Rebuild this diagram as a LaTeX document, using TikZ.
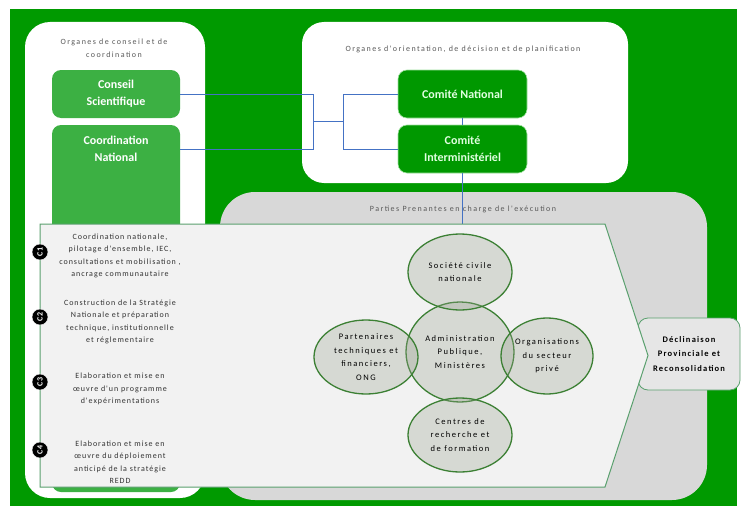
\documentclass[tikz,border=0pt]{standalone}
\usepackage{fontspec}
\setmainfont{Carlito}
\newfontfamily\lsA[LetterSpace=18]{Carlito}
\newfontfamily\lsB[LetterSpace=12]{Carlito}
\newfontfamily\lsC[LetterSpace=14]{Carlito}
\usetikzlibrary{shapes.geometric}
\definecolor{bggreen}{RGB}{0,154,0}
\definecolor{boxgreen}{RGB}{60,176,67}
\definecolor{comgreen}{RGB}{0,152,0}
\definecolor{comline}{RGB}{160,225,160}
\definecolor{comtext}{RGB}{225,255,225}
\definecolor{panelgray}{RGB}{216,216,216}
\definecolor{pentfill}{RGB}{242,242,242}
\definecolor{pentline}{RGB}{90,160,110}
\definecolor{ellline}{RGB}{60,128,52}
\definecolor{ellfill}{RGB}{150,160,140}
\definecolor{connblue}{RGB}{68,114,196}
\definecolor{txtgray}{RGB}{89,89,89}
\definecolor{txtdark}{RGB}{50,50,50}
\begin{document}
\begin{tikzpicture}[x=1pt,y=-1pt,
  greenbox/.style={fill=boxgreen, rounded corners=9, minimum width=128pt, inner sep=0pt,
    text=white, align=center, font=\bfseries\fontsize{12}{17}\selectfont},
  combox/.style={fill=comgreen, draw=comline, line width=0.6pt, rounded corners=9,
    minimum width=129pt, minimum height=48pt, inner sep=0pt,
    text=comtext, align=center, font=\bfseries\fontsize{12}{17}\selectfont},
  paneltitle/.style={text=txtgray, align=center, font=\lsA\fontsize{8}{13}\selectfont},
  conn/.style={draw=connblue, line width=0.7pt},
  ell/.style={ellipse, draw=ellline, line width=1.3pt, fill=ellfill, fill opacity=0.3,
    text opacity=1, text=black, align=center, inner sep=0pt,
    font=\lsA\fontsize{8.5}{13.5}\selectfont},
  cdot/.style={circle, fill=black, draw=white, line width=0.4pt, text=white, minimum size=16pt, inner sep=0pt,
    rotate=90, font=\bfseries\fontsize{8}{9}\selectfont},
  ctext/.style={text=txtdark, align=center, font=\lsB\fontsize{8}{12.5}\selectfont}
]
\useasboundingbox (0,0) rectangle (741,511);
\fill[white] (0,0) rectangle (741,511);
\fill[bggreen] (10,9) rectangle (737,506);

% panels
\fill[white, rounded corners=25] (25,22) rectangle (205,498);
\fill[white, rounded corners=22] (302,22) rectangle (628,183);
\fill[panelgray, rounded corners=35] (220,192) rectangle (707,500);

\node[paneltitle] (t1) at (114,48) {Organes de conseil et de\\coordination};
\node[paneltitle] (t2) at (463,49) {Organes d'orientation, de décision et de planification};
\node[paneltitle] (t3) at (463,209) {Parties Prenantes en charge de l'exécution};

% left boxes
\node[greenbox, minimum height=48pt] (cs) at (116,94) {Conseil\\Scientifique};
\node[greenbox, minimum height=367pt] (cnbox) at (116,308.5) {};
\node[text=white, align=center, font=\bfseries\fontsize{12}{17}\selectfont] (cntext) at (116,149) {Coordination\\National};

% comites
\node[combox] (cnat) at (462.5,94) {Comité National};
\node[combox] (cint) at (462.5,149) {Comité\\Interministériel};

% connectors
\coordinate (ja) at (313,121);
\coordinate (jb) at (343,121);
\coordinate (ptop) at (462.5,224);
\draw[conn] (cs.east) -| (ja);
\draw[conn] (cnbox.east |- cntext) -| (ja);
\draw[conn] (ja) -- (jb);
\draw[conn] (jb) |- (cnat.west);
\draw[conn] (jb) |- (cint.west);
\draw[conn] (cnat.south) -- (cint.north);
\draw[conn] (cint.south) -- (ptop);

% declinaison box
\node[draw=pentline, line width=0.8pt, fill=pentfill!95!black, rounded corners=10,
  minimum width=102pt, minimum height=72pt, inner sep=0pt, text=black, align=center,
  font=\lsC\bfseries\fontsize{8.5}{14.5}\selectfont] (dec) at (689,354)
  {Déclinaison\\Provinciale et\\Reconsolidation};

% pentagon
\draw[fill=pentfill, draw=pentline, line width=1pt] (40,224) -- (605,224) -- (648,355.5) -- (605,487) -- (40,487) -- cycle;

% timeline
\node[cdot] (c1) at (40,252) {C1};
\node[cdot] (c2) at (40,317) {C2};
\node[cdot] (c3) at (40,382) {C3};
\node[cdot] (c4) at (40,450) {C4};
\node[ctext] (x1) at (120,256) {Coordination nationale,\\pilotage d'ensemble, IEC,\\consultations et mobilisation ,\\ancrage communautaire};
\node[ctext] (x2) at (120,322) {Construction de la Stratégie\\Nationale et préparation\\technique, institutionnelle\\et réglementaire};
\node[ctext] (x3) at (120,389) {Elaboration et mise en\\œuvre d'un programme\\d'expérimentations};
\node[ctext] (x4) at (120,462) {Elaboration et mise en\\œuvre du déploiement\\anticipé de la stratégie\\REDD};

% ellipses
\node[ell, minimum width=108pt, minimum height=100pt] (adm) at (460,352) {Administration\\Publique,\\Ministères};
\node[ell, minimum width=104pt, minimum height=76pt] (soc) at (460,272) {Société civile\\nationale};
\node[ell, minimum width=104pt, minimum height=74pt] (ptf) at (366,357) {Partenaires\\techniques et\\financiers,\\ONG};
\node[ell, minimum width=92pt, minimum height=76pt] (org) at (547,356) {Organisations\\du secteur\\privé};
\node[ell, minimum width=104pt, minimum height=74pt] (crf) at (460,435) {Centres de\\recherche et\\de formation};
\end{tikzpicture}
\end{document}
